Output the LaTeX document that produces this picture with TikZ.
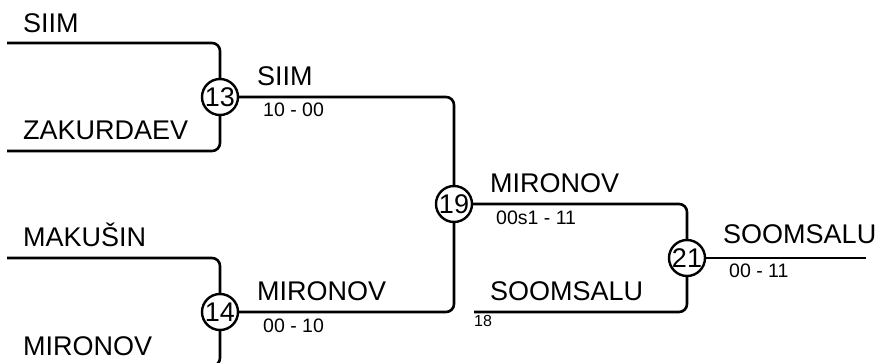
\documentclass[tikz,border=0pt]{standalone}
\usepackage{fontspec}
\setmainfont{Liberation Sans}
\begin{document}
\begin{tikzpicture}[x=1pt,y=-1pt,
  conn/.style={line width=2.6pt, rounded corners=8pt},
  matchc/.style={circle, draw, line width=2.4pt, minimum size=36pt, inner sep=0pt, fill=white, font=\fontsize{27}{30}\selectfont},
  player/.style={anchor=base west, inner sep=0pt, font=\fontsize{27}{30}\selectfont},
  scorelbl/.style={anchor=base west, inner sep=0pt, font=\fontsize{19.5}{22}\selectfont},
  seedlbl/.style={anchor=base west, inner sep=0pt, font=\fontsize{16}{18}\selectfont}]
\useasboundingbox (0,0) rectangle (875,363);
\clip (0,0) rectangle (875,363);
% match circles
\node[matchc] (m13) at (220,97) {13};
\node[matchc] (m14) at (220,312) {14};
\node[matchc] (m19) at (454,204) {19};
\node[matchc] (m21) at (687,258) {21};
% free ends
\coordinate (a1) at (7,43);
\coordinate (a2) at (7,151);
\coordinate (a3) at (7,258);
\coordinate (a4) at (7,366);
\coordinate (b18) at (474,312);
\coordinate (fin) at (866,258);
% connectors
\draw[conn] (a1) -| (m13);
\draw[conn] (a2) -| (m13);
\draw[conn] (a3) -| (m14);
\draw[conn] (a4) -| (m14);
\draw[conn] (m13) -| (m19);
\draw[conn] (m14) -| (m19);
\draw[conn] (m19) -| (m21);
\draw[conn] (b18) -| (m21);
\draw[conn] (m21) -- (fin);
% labels
\node[player] (t1) at (23,33) {SIIM};
\node[player] (t2) at (23,140) {ZAKURDAEV};
\node[player] (t3) at (23,247) {MAKUŠIN};
\node[player] (t4) at (23,355) {MIRONOV};
\node[player] (t5) at (257,86) {SIIM};
\node[scorelbl] (s5) at (263,117) {10 - 00};
\node[player] (t6) at (257,300) {MIRONOV};
\node[scorelbl] (s6) at (263,332) {00 - 10};
\node[player] (t7) at (490,193) {MIRONOV};
\node[scorelbl] (s7) at (496,225) {00s1 - 11};
\node[player] (t8) at (490,300) {SOOMSALU};
\node[seedlbl] (s8) at (474,326) {18};
\node[player] (t9) at (723,244) {SOOMSALU};
\node[scorelbl] (s9) at (729,278) {00 - 11};
\end{tikzpicture}
\end{document}
